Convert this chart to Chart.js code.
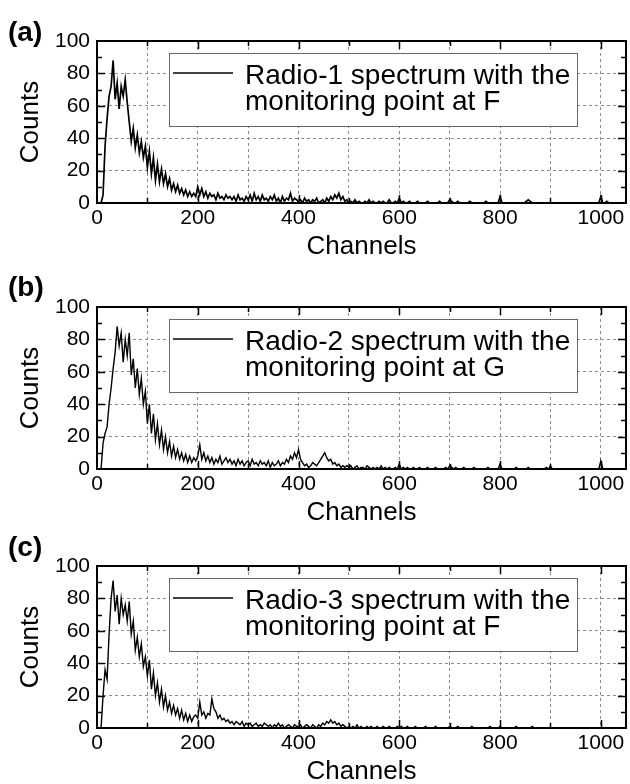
<!DOCTYPE html>
<html>
<head>
<meta charset="utf-8">
<script src="https://cdn.jsdelivr.net/npm/chart.js@4.4.1/dist/chart.umd.min.js"></script>
<style>
  html, body { margin: 0; padding: 0; background: #fff; overflow: hidden; }
  .panel { position: absolute; left: 0; width: 630px; height: 262px; }
</style>
</head>
<body>
<div class="panel" style="top:0px"><canvas id="chartA" width="630" height="262"></canvas></div>
<div class="panel" style="top:266px"><canvas id="chartB" width="630" height="262"></canvas></div>
<div class="panel" style="top:525px"><canvas id="chartC" width="630" height="262"></canvas></div>
<script>
// Gamma spectra, three panels. Counts sampled every 4 channels (0..1020)
const CHANNEL_STEP = 4;

const RADIO1_COUNTS = [
  0,0,0,5,35,52,66,72,88,64,74,58,72,66,76,62,50,38,46,34,42,31,38,28,35,
  22,32,18,28,14,24,13,21,12,18,10,15,8,12,7,11,6,9,5,8,4,7,4,6,4,
  10,5,9,4,7,3,6,4,5,2,6,3,4,2,5,3,4,2,4,1,5,2,3,1,4,
  2,5,1,6,2,4,1,5,2,3,1,4,2,5,1,3,0,4,1,3,2,6,1,3,2,
  1,2,0,3,1,2,0,2,1,3,0,1,2,0,3,1,4,2,5,3,6,2,4,1,2,
  0,1,0,2,0,1,0,0,1,0,2,0,1,0,0,1,0,1,0,0,2,0,0,1,0,
  3,0,1,0,0,1,0,0,0,1,0,0,0,0,1,0,0,0,0,0,1,0,0,0,0,
  2,1,0,0,1,0,0,0,0,0,1,0,0,0,0,0,0,0,1,0,0,0,0,0,0,
  4,0,0,0,0,0,0,0,0,0,0,0,0,1,2,1,0,0,0,0,0,0,0,0,0,
  0,0,0,0,0,0,0,0,0,0,0,0,0,0,0,0,0,0,0,0,0,0,0,0,0,
  4,0,0,1,0,0
];

const RADIO2_COUNTS = [
  0,0,0,16,22,26,40,50,62,72,88,76,84,66,80,70,84,58,68,50,62,46,56,40,48,
  28,40,22,34,18,28,15,24,12,20,10,17,8,14,7,12,6,10,5,9,4,8,4,7,5,
  8,15,6,10,5,8,4,7,3,6,4,8,3,5,7,4,6,3,5,2,6,3,5,2,4,
  5,2,6,3,4,2,5,3,4,2,5,1,4,2,3,5,2,4,3,6,4,8,6,10,7,
  12,6,4,2,3,1,2,4,3,2,4,6,8,10,7,5,6,3,4,2,3,1,2,1,2,
  1,2,0,1,2,0,1,1,0,2,1,0,1,0,1,0,2,0,1,0,1,0,0,1,0,
  3,0,1,0,1,0,0,1,0,0,1,0,0,0,1,0,0,0,1,0,0,0,0,1,0,
  2,1,0,1,0,0,0,1,0,0,0,0,1,0,0,0,0,0,0,1,0,0,0,0,0,
  3,0,0,0,0,0,0,0,1,0,0,0,0,0,1,0,0,0,0,0,0,0,0,1,0,
  2,0,0,0,0,0,0,0,0,0,0,0,0,0,0,0,0,0,0,0,0,0,0,0,0,
  5,0,0,0,0,0
];

const RADIO3_COUNTS = [
  0,0,0,20,36,30,58,80,91,72,82,64,80,70,76,66,78,58,66,48,56,44,52,38,44,
  32,42,24,34,20,28,16,24,13,20,11,16,9,14,8,12,6,11,5,9,4,8,4,7,8,
  6,16,8,10,6,9,8,18,12,10,6,8,5,6,4,5,3,4,2,4,3,2,4,1,3,
  2,3,1,2,3,1,2,1,3,2,1,2,0,2,1,3,1,2,0,1,2,1,0,2,1,
  1,2,0,1,2,1,0,2,1,0,2,1,3,2,4,3,5,3,4,2,3,1,2,1,0,
  1,0,1,0,2,0,1,0,0,1,0,1,0,0,1,0,0,1,0,0,1,0,0,0,1,
  0,1,0,0,1,0,0,0,1,0,0,0,0,1,0,0,0,0,1,0,0,0,0,0,0,
  1,0,0,0,1,0,0,0,0,0,0,1,0,0,0,0,0,0,0,0,1,0,0,0,0,
  1,0,0,0,0,0,0,0,1,0,0,0,0,0,0,0,1,0,0,0,0,0,0,0,0,
  0,0,0,0,0,0,0,0,0,0,0,0,0,0,0,0,0,0,0,0,0,0,0,0,0,
  0,0,0,0,0,0
];

const LEGEND_A = ['Radio-1 spectrum with the', 'monitoring point at F'];
const LEGEND_B = ['Radio-2 spectrum with the', 'monitoring point at G'];
const LEGEND_C = ['Radio-3 spectrum with the', 'monitoring point at F'];

const PANEL_LETTERS = ['(a)', '(b)', '(c)'];
const X_TICK_LABELS = [0, 200, 400, 600, 800, 1000];
const Y_TICK_LABELS = [0, 20, 40, 60, 80, 100];

const FONT = "'Liberation Sans', Arial, sans-serif";

// box frame + inward ticks on all four sides
const frameTicks = {
  id: 'frameTicks',
  afterDraw(chart) {
    const { ctx, chartArea: a, scales: { x, y } } = chart;
    ctx.save();
    ctx.strokeStyle = '#000';
    ctx.lineWidth = 1.5;
    ctx.beginPath();
    x.ticks.forEach(t => {
      if (t.value <= 0 || t.value >= x.max) return;
      const px = Math.round(x.getPixelForValue(t.value)) + 0.5;
      const len = X_TICK_LABELS.includes(t.value) ? 8 : 5;
      ctx.moveTo(px, a.bottom); ctx.lineTo(px, a.bottom - len);
      ctx.moveTo(px, a.top); ctx.lineTo(px, a.top + len);
    });
    for (let v = 10; v < 100; v += 10) {
      const py = Math.round(y.getPixelForValue(v)) + 0.5;
      const len = v % 20 === 0 ? 8 : 5;
      ctx.moveTo(a.left, py); ctx.lineTo(a.left + len, py);
      ctx.moveTo(a.right, py); ctx.lineTo(a.right - len, py);
    }
    ctx.stroke();
    ctx.lineWidth = 2;
    ctx.strokeRect(a.left, a.top, a.right - a.left, a.bottom - a.top);
    // panel letter
    const o = chart.options.plugins.frameTicks;
    ctx.fillStyle = '#000';
    ctx.font = `bold 28px ${FONT}`;
    ctx.textBaseline = 'middle';
    ctx.textAlign = 'left';
    ctx.fillText(o.letter, 8, a.top + o.letterDy);
    ctx.restore();
  }
};

// two-line legend in a framed box
const boxLegend = {
  id: 'boxLegend',
  afterDatasetsDraw(chart) {
    const { ctx, chartArea: a } = chart;
    const ds = chart.data.datasets[0];
    const lines = ds.label.split('\n');
    const bx = a.left + 72, by = a.top + 12, bw = 408, bh = 73;
    ctx.save();
    ctx.fillStyle = '#fff';
    ctx.fillRect(bx, by, bw, bh);
    ctx.strokeStyle = '#666';
    ctx.lineWidth = 1;
    ctx.strokeRect(bx + 0.5, by + 0.5, bw, bh);
    ctx.strokeStyle = ds.borderColor;
    ctx.lineWidth = ds.borderWidth;
    ctx.beginPath();
    ctx.moveTo(bx + 4, by + 20);
    ctx.lineTo(bx + 64, by + 20);
    ctx.stroke();
    ctx.fillStyle = '#000';
    ctx.font = `28px ${FONT}`;
    ctx.textBaseline = 'alphabetic';
    ctx.textAlign = 'left';
    lines.forEach((t, i) => ctx.fillText(t, bx + 76, by + 31 + i * 26));
    ctx.restore();
  }
};

function makePanel(canvasId, counts, legendLines, letter, letterDy, lineWidth) {
  const ctx = document.getElementById(canvasId).getContext('2d');
  const points = counts.map((c, i) => ({ x: i * CHANNEL_STEP, y: c }));
  return new Chart(ctx, {
    type: 'line',
    data: {
      datasets: [{
        label: legendLines.join('\n'),
        data: points,
        borderColor: '#000',
        borderWidth: lineWidth,
        pointRadius: 0,
        tension: 0,
        fill: false
      }]
    },
    options: {
      responsive: false,
      animation: false,
      layout: { padding: { top: 41, right: 4, left: 0, bottom: 0 } },
      plugins: {
        legend: { display: false },
        tooltip: { enabled: false },
        frameTicks: { letter, letterDy }
      },
      scales: {
        x: {
          type: 'linear',
          min: 0,
          max: 1050,
          afterFit: s => { s.height = 59; },
          grid: { color: '#8c8c8c', lineWidth: 1, drawTicks: false },
          border: { display: false, dash: [3, 3] },
          ticks: {
            stepSize: 100,
            includeBounds: false,
            autoSkip: false,
            maxRotation: 0,
            padding: 3,
            color: '#000',
            font: { family: FONT, size: 21 },
            callback: v => X_TICK_LABELS.includes(v) ? String(v) : ''
          },
          title: {
            display: true,
            text: 'Channels',
            color: '#000',
            font: { family: FONT, size: 26 },
            padding: { top: 0, bottom: 0 }
          }
        },
        y: {
          min: 0,
          max: 100,
          afterFit: s => { s.width = 97; },
          grid: { color: '#8c8c8c', lineWidth: 1, drawTicks: false },
          border: { display: false, dash: [3, 3] },
          ticks: {
            stepSize: 20,
            padding: 7,
            color: '#000',
            font: { family: FONT, size: 21 },
            callback: v => Y_TICK_LABELS.includes(v) ? String(v) : ''
          },
          title: {
            display: true,
            text: 'Counts',
            color: '#000',
            font: { family: FONT, size: 26 },
            padding: { top: 15, bottom: 0 }
          }
        }
      }
    },
    plugins: [boxLegend, frameTicks]
  });
}

makePanel('chartA', RADIO1_COUNTS, LEGEND_A, PANEL_LETTERS[0], -8, 1.7);
makePanel('chartB', RADIO2_COUNTS, LEGEND_B, PANEL_LETTERS[1], -19, 1.4);
makePanel('chartC', RADIO3_COUNTS, LEGEND_C, PANEL_LETTERS[2], -18, 1.4);
</script>
</body>
</html>
